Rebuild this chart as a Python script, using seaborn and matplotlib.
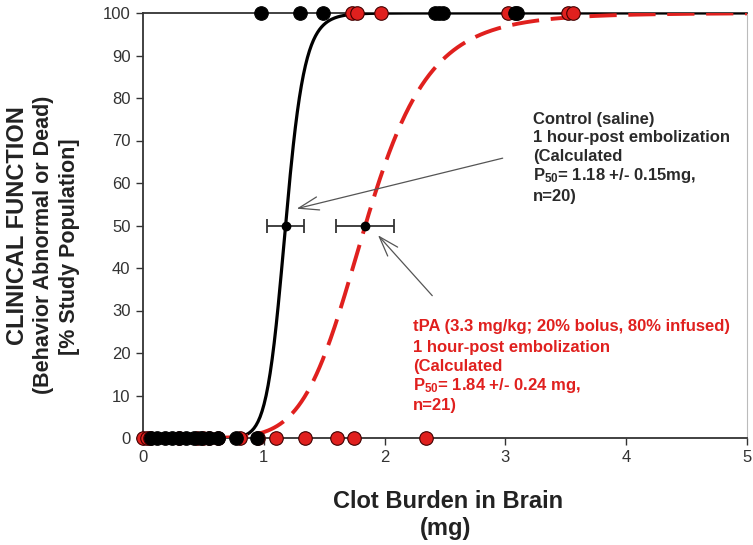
import numpy as np
import pandas as pd
import matplotlib
matplotlib.use("Agg")
import matplotlib.pyplot as plt
import seaborn as sns

# ---------------- data ----------------
ctrl_x0 = [0.07, 0.12, 0.18, 0.24, 0.30, 0.36, 0.42, 0.48, 0.55, 0.62, 0.77, 0.94]
ctrl_x100 = [0.98, 1.30, 1.49, 2.42, 2.45, 2.48, 3.08, 3.10]
tpa_x0 = [0.00, 0.03, 0.06, 0.30, 0.45, 0.50, 0.55, 0.62, 0.80, 0.95, 1.10, 1.34, 1.61, 1.75, 2.34]
tpa_x100 = [1.73, 1.77, 1.97, 3.02, 3.52, 3.56]

ctrl_p50, ctrl_err, ctrl_slope = 1.18, 0.15, 15.0
tpa_p50, tpa_err, tpa_slope = 1.84, 0.24, 7.0

x_ticks = [0, 1, 2, 3, 4, 5]
y_ticks = [0, 10, 20, 30, 40, 50, 60, 70, 80, 90, 100]

ctrl_lines = ["Control (saline)", "1 hour-post embolization", "(Calculated",
              "P$_{50}$= 1.18 +/- 0.15mg,", "n=20)"]
tpa_lines = ["tPA (3.3 mg/kg; 20% bolus, 80% infused)", "1 hour-post embolization",
             "(Calculated", "P$_{50}$= 1.84 +/- 0.24 mg,", "n=21)"]

RED = "#e0201e"

# ---------------- figure ----------------
sns.set_theme(style="white")
plt.rcParams["font.family"] = ["Liberation Sans", "DejaVu Sans"]
plt.rcParams["mathtext.fontset"] = "custom"
plt.rcParams["mathtext.rm"] = "Liberation Sans:bold"
plt.rcParams["mathtext.it"] = "Liberation Sans:bold"

W, H = 753, 545
fig = plt.figure(figsize=(W / 100, H / 100), dpi=100)
ax = fig.add_axes([143 / W, 1 - 438 / H, 1 - 143 / W - 0.008, (438 - 13) / H])

# fitted curves (Hill model using the calculated P50 values)
xs = np.linspace(0.001, 5, 600)
curves = pd.DataFrame({
    "x": np.concatenate([xs, xs]),
    "y": np.concatenate([100 / (1 + (ctrl_p50 / xs) ** ctrl_slope),
                         100 / (1 + (tpa_p50 / xs) ** tpa_slope)]),
    "group": ["Control"] * len(xs) + ["tPA"] * len(xs),
})
sns.lineplot(data=curves[curves.group == "Control"], x="x", y="y", color="black",
             lw=2.3, ax=ax, zorder=3)
sns.lineplot(data=curves[curves.group == "tPA"], x="x", y="y", color=RED,
             lw=2.8, ax=ax, zorder=3, dashes=False)
ax.lines[-1].set_dashes([7, 3])

# data points
tpa_pts = pd.DataFrame({"x": tpa_x0 + tpa_x100,
                        "y": [0] * len(tpa_x0) + [100] * len(tpa_x100)})
ctrl_pts = pd.DataFrame({"x": ctrl_x0 + ctrl_x100,
                         "y": [0] * len(ctrl_x0) + [100] * len(ctrl_x100)})
sns.scatterplot(data=tpa_pts, x="x", y="y", color=RED, edgecolor="#400000",
                linewidth=0.8, s=95, ax=ax, zorder=5, clip_on=False)
sns.scatterplot(data=ctrl_pts, x="x", y="y", color="black", edgecolor="black",
                linewidth=0.8, s=95, ax=ax, zorder=6, clip_on=False)
for c in ax.collections:
    c.set_clip_on(False)

# P50 with error bars
ax.errorbar([ctrl_p50], [50], xerr=[ctrl_err], fmt="o", color="black", ms=6,
            ecolor="#333333", elinewidth=1.3, capsize=5, capthick=1.3, zorder=7)
ax.errorbar([tpa_p50], [50], xerr=[tpa_err], fmt="o", color="black", ms=6,
            ecolor="#333333", elinewidth=1.3, capsize=5, capthick=1.3, zorder=7)

# annotations
ax.annotate("", xy=(1.25, 53.8), xytext=(3.0, 66.0),
            arrowprops=dict(arrowstyle="->,head_length=1.2,head_width=0.4",
                            color="#555555", lw=0.9), zorder=8)
ax.annotate("", xy=(1.93, 48.2), xytext=(2.41, 33.0),
            arrowprops=dict(arrowstyle="->,head_length=1.2,head_width=0.4",
                            color="#555555", lw=0.9), zorder=8)

def px_to_fig(xp, yp):
    return xp / W, 1 - yp / H

for line, yb in zip(ctrl_lines, [124, 142, 161, 180, 201]):
    fx, fy = px_to_fig(533, yb)
    fig.text(fx, fy, line, fontsize=12, fontweight="bold", color="#2a2a2a",
             va="baseline", ha="left")
for line, yb in zip(tpa_lines, [331, 352, 371, 390, 410]):
    fx, fy = px_to_fig(413, yb)
    fig.text(fx, fy, line, fontsize=12, fontweight="bold", color=RED,
             va="baseline", ha="left")

# axes styling
ax.set_xlim(0, 5)
ax.set_ylim(0, 100)
ax.set_xticks(x_ticks)
ax.set_yticks(y_ticks)
ax.set_xticklabels([str(t) for t in x_ticks], fontsize=12, color="#333333")
ax.set_yticklabels([str(t) for t in y_ticks], fontsize=12, color="#333333")
ax.tick_params(axis="both", direction="out", length=5, width=1, color="#333333",
               bottom=True, left=True, pad=4)
for side in ["left", "bottom", "top"]:
    ax.spines[side].set_color("#333333")
    ax.spines[side].set_linewidth(1.3)
ax.spines["right"].set_color("#bbbbbb")
ax.spines["right"].set_linewidth(0.8)
ax.set_xlabel("")
ax.set_ylabel("")

fig.text(448 / W, 1 - 501 / H, "Clot Burden in Brain", ha="center", va="center",
         fontsize=17, fontweight="bold", color="#222222")
fig.text(446 / W, 1 - 528 / H, "(mg)", ha="center", va="center",
         fontsize=17, fontweight="bold", color="#222222")
for xp, yp, s, fs in [(18, 226, "CLINICAL FUNCTION", 17),
                      (44, 245, "(Behavior Abnormal or Dead)", 15.5),
                      (70, 247, "[% Study Population]", 15.5)]:
    fig.text(xp / W, 1 - yp / H, s, rotation=90, ha="center", va="center",
             fontsize=fs, fontweight="bold", color="#222222")

fig.savefig("out.png", dpi=100)
